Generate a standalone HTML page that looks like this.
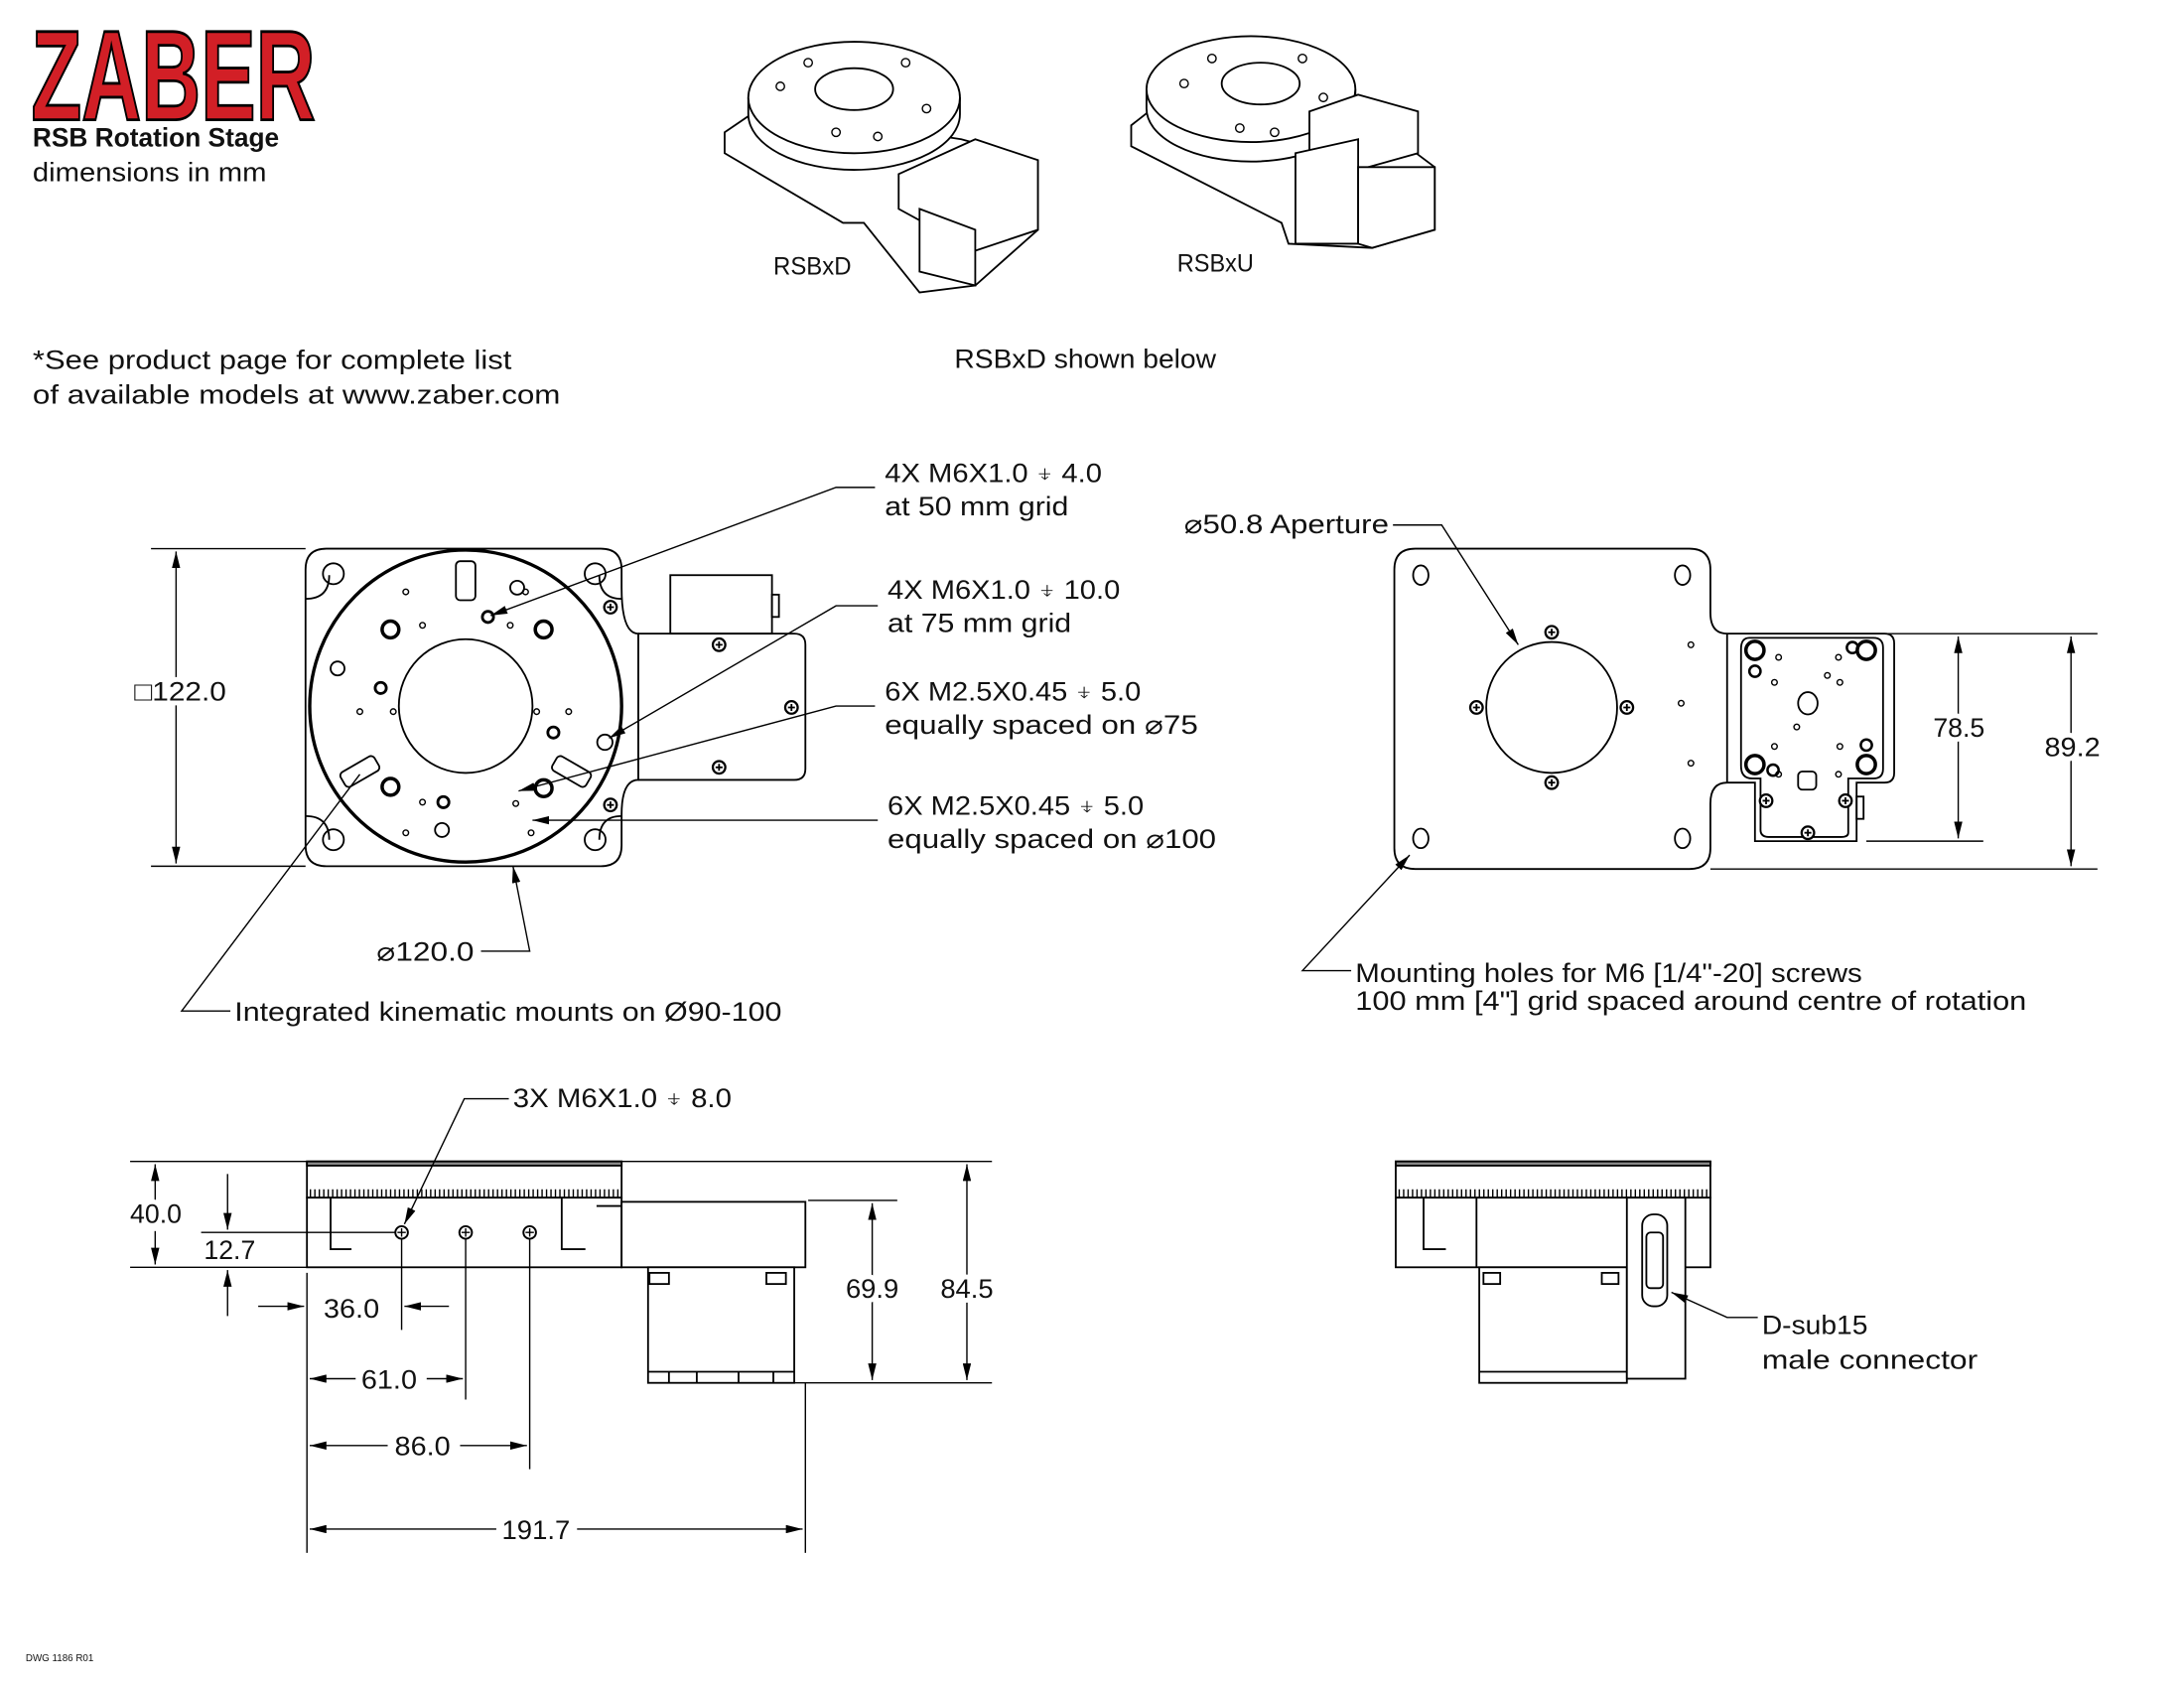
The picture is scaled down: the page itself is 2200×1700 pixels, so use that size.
<!DOCTYPE html>
<html><head><meta charset="utf-8"><style>
html,body{margin:0;padding:0;background:#fff}
svg{display:block}
text{font-family:"Liberation Sans",sans-serif;fill:#111}
.bg{paint-order:stroke;stroke:#fff;stroke-width:7px;stroke-linejoin:round}
</style></head><body>
<svg width="2200" height="1700" viewBox="0 0 1567.7 1212.1" xmlns="http://www.w3.org/2000/svg">
<defs>
<marker id="a" viewBox="0 0 12 6" refX="12" refY="3" markerWidth="12" markerHeight="6" orient="auto-start-reverse" markerUnits="userSpaceOnUse"><path d="M0,0 L12,3 L0,6 z" fill="#000"/></marker>
<g id="scr"><circle r="4.5" fill="#fff" stroke="#000" stroke-width="1.6"/><path d="M-2.5,0H2.5M0,-2.5V2.5" stroke="#000" stroke-width="1.3"/></g>
</defs>

<!-- Logo -->
<text x="22" y="86" font-size="92" font-weight="bold" textLength="204" lengthAdjust="spacingAndGlyphs" style="fill:#d21f26;stroke:#000;stroke-width:2">ZABER</text>
<g font-size="19">
<text x="23" y="105" font-weight="bold" textLength="177" lengthAdjust="spacingAndGlyphs">RSB Rotation Stage</text>
<text x="23" y="130" textLength="168" lengthAdjust="spacingAndGlyphs">dimensions in mm</text>
<text x="23" y="265" textLength="344" lengthAdjust="spacingAndGlyphs">*See product page for complete list</text>
<text x="23" y="290" textLength="379" lengthAdjust="spacingAndGlyphs">of available models at www.zaber.com</text>
<text x="555" y="197" font-size="18" textLength="56" lengthAdjust="spacingAndGlyphs">RSBxD</text>
<text x="845" y="195" font-size="18" textLength="55" lengthAdjust="spacingAndGlyphs">RSBxU</text>
<text x="685" y="264" textLength="188" lengthAdjust="spacingAndGlyphs">RSBxD shown below</text>
</g>

<g fill="#fff" stroke="#000" stroke-width="1.3">
<!-- RSBxD iso -->
<path d="M520,95 L545,78 L690,100 L745,115 L745,165 L700,205 L660,210 L620,160 L605,160 L520,110 Z"/>
<path d="M537,70 L537,82 A76,40 0 0 0 689,82 L689,70"/>
<ellipse cx="613" cy="70" rx="76" ry="40"/>
<ellipse cx="613" cy="64" rx="28" ry="15"/>
<path d="M645,125 L700,100 L745,115 L745,165 L700,180 L645,150 Z"/>
<path d="M660,150 L700,165 L700,205 L660,195 Z"/>
<!-- RSBxU iso -->
<path d="M812,90 L835,72 L990,90 L1030,120 L1030,165 L985,178 L925,175 L920,160 L812,105 Z"/>
<path d="M823,64 L823,78 A75,38 0 0 0 973,78 L973,64"/>
<ellipse cx="898" cy="64" rx="75" ry="38"/>
<ellipse cx="905" cy="60" rx="28" ry="15"/>
<path d="M940,80 L975,68 L1018,80 L1018,110 L975,122 L940,110 Z"/>
<path d="M930,110 L975,100 L975,175 L930,175 Z"/>
<path d="M975,120 L1030,120 L1030,165 L985,178 L975,175 Z"/>
</g>
<g fill="none" stroke="#000" stroke-width="1">
<circle cx="560" cy="62" r="3"/><circle cx="580" cy="45" r="3"/><circle cx="650" cy="45" r="3"/><circle cx="665" cy="78" r="3"/><circle cx="600" cy="95" r="3"/><circle cx="630" cy="98" r="3"/>
<circle cx="850" cy="60" r="3"/><circle cx="870" cy="42" r="3"/><circle cx="935" cy="42" r="3"/><circle cx="950" cy="70" r="3"/><circle cx="890" cy="92" r="3"/><circle cx="915" cy="95" r="3"/>
</g>

<!-- TOP VIEW LEFT -->
<g fill="none" stroke="#000" stroke-width="1.3">
<path d="M234,394 H431 Q446,394 446,409 V422 Q446,455 458,455 V560 Q446,560 446,585 V607 Q446,622 431,622 H234 Q219,622 219,607 V409 Q219,394 234,394 Z"/>
<path d="M458,455 H570 Q578,455 578,463 V552 Q578,560 570,560 H458"/>
<path d="M219,430 Q236,430 236,413 M446,430 Q430,430 430,413 M219,586 Q236,586 236,603 M446,586 Q430,586 430,603"/>
<rect x="481" y="413" width="73" height="42"/>
<rect x="554" y="427" width="5" height="16"/>
<circle cx="334" cy="507" r="112" stroke-width="2.4"/>
<circle cx="334" cy="507" r="48"/>
<circle cx="239" cy="412" r="7.5"/><circle cx="427" cy="412" r="7.5"/>
<circle cx="239" cy="603" r="7.5"/><circle cx="427" cy="603" r="7.5"/>
<circle cx="371" cy="422" r="5"/><circle cx="242" cy="480" r="5"/><circle cx="434" cy="533" r="5.5"/><circle cx="317" cy="596" r="5"/>
<circle cx="280" cy="452" r="6" stroke-width="2.5"/><circle cx="390" cy="452" r="6" stroke-width="2.5"/>
<circle cx="280" cy="565" r="6" stroke-width="2.5"/><circle cx="390" cy="566" r="6" stroke-width="2.5"/>
<circle cx="350" cy="443" r="4" stroke-width="2"/><circle cx="273" cy="494" r="4" stroke-width="2"/>
<circle cx="397" cy="526" r="4" stroke-width="2"/><circle cx="318" cy="576" r="4" stroke-width="2"/>
<rect x="327" y="403" width="14" height="28" rx="3"/>
<rect x="252" y="540" width="12" height="28" rx="3" transform="rotate(60 258 554)"/>
<rect x="404" y="540" width="12" height="28" rx="3" transform="rotate(-60 410 554)"/>
<g stroke-width="1"><circle cx="291" cy="425" r="2"/><circle cx="377" cy="425" r="2"/><circle cx="303" cy="449" r="2"/><circle cx="366" cy="449" r="2"/><circle cx="258" cy="511" r="2"/><circle cx="282" cy="511" r="2"/><circle cx="385" cy="511" r="2"/><circle cx="408" cy="511" r="2"/><circle cx="303" cy="576" r="2"/><circle cx="370" cy="577" r="2"/><circle cx="291" cy="598" r="2"/><circle cx="381" cy="598" r="2"/></g>
</g>
<use href="#scr" x="438" y="436"/><use href="#scr" x="438" y="578"/>
<use href="#scr" x="516" y="463"/><use href="#scr" x="568" y="508"/><use href="#scr" x="516" y="551"/>

<!-- TOP VIEW RIGHT -->
<g fill="none" stroke="#000" stroke-width="1.3">
<path d="M1016,394 H1213 Q1228,394 1228,409 V440 Q1228,455 1240,455 H1353 Q1360,455 1360,462 V555 Q1360,562 1353,562 H1333 V604 H1260 V562 H1240 Q1228,562 1228,577 V609 Q1228,624 1213,624 H1016 Q1001,624 1001,609 V409 Q1001,394 1016,394 Z"/>
<path d="M1240,455 V562"/>
<path d="M1256,458 H1345 Q1352,458 1352,465 V552 Q1352,559 1345,559 H1327 V598 Q1327,601 1322,601 H1270 Q1264,601 1264,596 V559 H1258 Q1250,559 1250,550 V466 Q1250,458 1256,458 Z"/>
<circle cx="1114" cy="508" r="47"/>
<ellipse cx="1020" cy="413" rx="5.5" ry="7"/><ellipse cx="1208" cy="413" rx="5.5" ry="7"/>
<ellipse cx="1020" cy="602" rx="5.5" ry="7"/><ellipse cx="1208" cy="602" rx="5.5" ry="7"/>
<circle cx="1260" cy="467" r="6.5" stroke-width="2.5"/><circle cx="1340" cy="467" r="6.5" stroke-width="2.5"/>
<circle cx="1260" cy="549" r="6.5" stroke-width="2.5"/><circle cx="1340" cy="549" r="6.5" stroke-width="2.5"/>
<circle cx="1260" cy="482" r="4" stroke-width="1.8"/><circle cx="1330" cy="465" r="4" stroke-width="1.8"/><circle cx="1273" cy="553" r="4" stroke-width="1.8"/><circle cx="1340" cy="535" r="4" stroke-width="1.8"/>
<ellipse cx="1298" cy="505" rx="7" ry="8"/>
<rect x="1291" y="554" width="13" height="13" rx="3"/>
<rect x="1333" y="572" width="5" height="16"/>
<g stroke-width="1"><circle cx="1214" cy="463" r="2"/><circle cx="1207" cy="505" r="2"/><circle cx="1214" cy="548" r="2"/><circle cx="1277" cy="472" r="2"/><circle cx="1320" cy="472" r="2"/><circle cx="1274" cy="490" r="2"/><circle cx="1321" cy="490" r="2"/><circle cx="1312" cy="485" r="2"/><circle cx="1290" cy="522" r="2"/><circle cx="1274" cy="536" r="2"/><circle cx="1321" cy="536" r="2"/><circle cx="1277" cy="556" r="2"/><circle cx="1320" cy="556" r="2"/></g>
</g>
<use href="#scr" x="1114" y="454"/><use href="#scr" x="1114" y="562"/><use href="#scr" x="1060" y="508"/><use href="#scr" x="1168" y="508"/>
<use href="#scr" x="1268" y="575"/><use href="#scr" x="1325" y="575"/><use href="#scr" x="1298" y="598"/>

<!-- dims top views -->
<g fill="none" stroke="#000" stroke-width="1">
<path d="M108,394H219M108,622H219"/>
<path d="M126,396V620" marker-start="url(#a)" marker-end="url(#a)"/>
<path d="M1240,455H1506M1340,604H1424M1228,624H1506"/>
<path d="M1406,457V602" marker-start="url(#a)" marker-end="url(#a)"/>
<path d="M1487,457V622" marker-start="url(#a)" marker-end="url(#a)"/>
<path d="M628,350H600L352,442" marker-end="url(#a)"/>
<path d="M630,435H600L437,530" marker-end="url(#a)"/>
<path d="M628,507H600L372,568" marker-end="url(#a)"/>
<path d="M630,589H382" marker-end="url(#a)"/>
<path d="M345,683H380L368,622" marker-end="url(#a)"/>
<path d="M165,726H130L258,556"/>
<path d="M1000,377H1035L1090,463" marker-end="url(#a)"/>
<path d="M970,697H935L1012,614" marker-end="url(#a)"/>
</g>
<g font-size="19">
<text x="96" y="503" class="bg" textLength="66" lengthAdjust="spacingAndGlyphs">□122.0</text>
<text x="635" y="346" textLength="156" lengthAdjust="spacingAndGlyphs">4X M6X1.0 ⍖ 4.0</text><text x="635" y="370" textLength="132" lengthAdjust="spacingAndGlyphs">at 50 mm grid</text>
<text x="637" y="430" textLength="167" lengthAdjust="spacingAndGlyphs">4X M6X1.0 ⍖ 10.0</text><text x="637" y="454" textLength="132" lengthAdjust="spacingAndGlyphs">at 75 mm grid</text>
<text x="635" y="503" textLength="184" lengthAdjust="spacingAndGlyphs">6X M2.5X0.45 ⍖ 5.0</text><text x="635" y="527" textLength="225" lengthAdjust="spacingAndGlyphs">equally spaced on ⌀75</text>
<text x="637" y="585" textLength="184" lengthAdjust="spacingAndGlyphs">6X M2.5X0.45 ⍖ 5.0</text><text x="637" y="609" textLength="236" lengthAdjust="spacingAndGlyphs">equally spaced on ⌀100</text>
<text x="270" y="690" textLength="70" lengthAdjust="spacingAndGlyphs">⌀120.0</text>
<text x="168" y="733" textLength="393" lengthAdjust="spacingAndGlyphs">Integrated kinematic mounts on Ø90-100</text>
<text x="850" y="383" textLength="147" lengthAdjust="spacingAndGlyphs">⌀50.8 Aperture</text>
<text x="973" y="705" textLength="364" lengthAdjust="spacingAndGlyphs">Mounting holes for M6 [1/4"-20] screws</text>
<text x="973" y="725" textLength="482" lengthAdjust="spacingAndGlyphs">100 mm [4"] grid spaced around centre of rotation</text>
<text x="1388" y="529" class="bg" textLength="37" lengthAdjust="spacingAndGlyphs">78.5</text>
<text x="1468" y="543" class="bg" textLength="40" lengthAdjust="spacingAndGlyphs">89.2</text>
</g>

<!-- SIDE VIEW LEFT -->
<g fill="#fff" stroke="#000" stroke-width="1.3">
<rect x="220" y="834" width="226" height="26"/>
<rect x="220" y="834" width="226" height="3" fill="#888"/>
<rect x="220" y="860" width="226" height="50"/>
<path d="M237,860V897H252M403,860V897H420"/>
<rect x="446" y="863" width="132" height="47"/>
<rect x="465" y="910" width="105" height="83"/>
<rect x="466" y="914" width="14" height="8"/><rect x="550" y="914" width="14" height="8"/>
<path d="M465,985H570M480,985V993M500,985V993M530,985V993M555,985V993"/>
<path d="M428,866H446"/>
</g>
<path d="M222,857H446" stroke="#000" stroke-width="6" stroke-dasharray="1 2.2"/>
<g fill="#fff" stroke="#000" stroke-width="1.4"><circle cx="288" cy="885" r="4.5"/><circle cx="334" cy="885" r="4.5"/><circle cx="380" cy="885" r="4.5"/></g>
<g stroke="#000" stroke-width="1"><path d="M285,885H291M288,882V888M331,885H337M334,882V888M377,885H383M380,882V888"/></g>

<!-- SIDE VIEW RIGHT -->
<g fill="#fff" stroke="#000" stroke-width="1.3">
<rect x="1002" y="834" width="226" height="26"/>
<rect x="1002" y="834" width="226" height="3" fill="#888"/>
<rect x="1002" y="860" width="226" height="50"/>
<path d="M1022,860V897H1038M1060,860V910"/>
<rect x="1062" y="910" width="106" height="83"/>
<rect x="1065" y="914" width="12" height="8"/><rect x="1150" y="914" width="12" height="8"/>
<path d="M1062,985H1168"/>
<rect x="1168" y="860" width="42" height="130"/>
<rect x="1179" y="872" width="18" height="66" rx="8"/>
<rect x="1182" y="885" width="12" height="40" rx="3"/>
</g>
<path d="M1004,857H1228" stroke="#000" stroke-width="6" stroke-dasharray="1 2.2"/>

<!-- dims side -->
<g fill="none" stroke="#000" stroke-width="1">
<path d="M93,834H712M93,910H220M144,885H284M580,862H644M570,993H712"/>
<path d="M111,862V836" marker-end="url(#a)"/><path d="M111,884V908" marker-end="url(#a)"/>
<path d="M163,843V883" marker-end="url(#a)"/>
<path d="M163,945V912" marker-end="url(#a)"/>
<path d="M220,914V1115M288,890V955M334,890V1005M380,890V1055M578,993V1115"/>
<path d="M185,938H218" marker-end="url(#a)"/><path d="M322,938H290" marker-end="url(#a)"/>
<path d="M255,990H222" marker-end="url(#a)"/><path d="M306,990H332" marker-end="url(#a)"/>
<path d="M278,1038H222" marker-end="url(#a)"/><path d="M330,1038H378" marker-end="url(#a)"/>
<path d="M356,1098H222" marker-end="url(#a)"/><path d="M414,1098H576" marker-end="url(#a)"/>
<path d="M626,864V991" marker-start="url(#a)" marker-end="url(#a)"/>
<path d="M694,836V991" marker-start="url(#a)" marker-end="url(#a)"/>
<path d="M365,789H333L290,879" marker-end="url(#a)"/>
<path d="M1262,946H1240L1200,928" marker-end="url(#a)"/>
</g>
<g font-size="19">
<text x="368" y="795" textLength="157" lengthAdjust="spacingAndGlyphs">3X M6X1.0 ⍖ 8.0</text>
<text x="93" y="878" class="bg" textLength="37" lengthAdjust="spacingAndGlyphs">40.0</text>
<text x="146" y="904" class="bg" textLength="37" lengthAdjust="spacingAndGlyphs">12.7</text>
<text x="232" y="946" textLength="40" lengthAdjust="spacingAndGlyphs">36.0</text>
<text x="259" y="997" textLength="40" lengthAdjust="spacingAndGlyphs">61.0</text>
<text x="283" y="1045" textLength="40" lengthAdjust="spacingAndGlyphs">86.0</text>
<text x="360" y="1105" textLength="49" lengthAdjust="spacingAndGlyphs">191.7</text>
<text x="607" y="932" class="bg" textLength="38" lengthAdjust="spacingAndGlyphs">69.9</text>
<text x="675" y="932" class="bg" textLength="38" lengthAdjust="spacingAndGlyphs">84.5</text>
<text x="1265" y="958" textLength="76" lengthAdjust="spacingAndGlyphs">D-sub15</text>
<text x="1265" y="983" textLength="155" lengthAdjust="spacingAndGlyphs">male connector</text>
</g>
<text x="18" y="1193" font-size="7">DWG 1186 R01</text>
</svg>
</body></html>
